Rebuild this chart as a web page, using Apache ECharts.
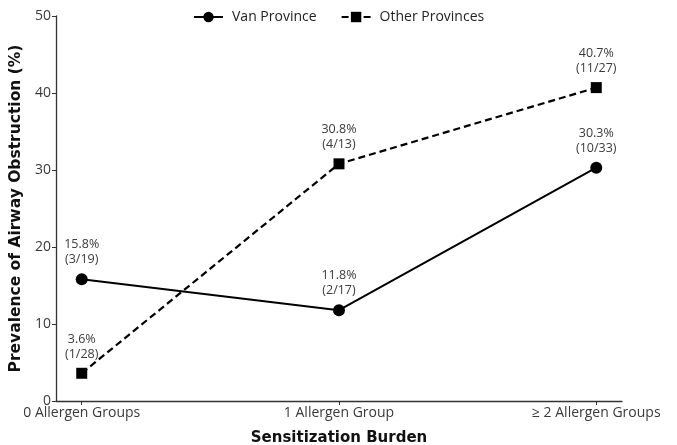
<!DOCTYPE html>
<html><head><meta charset="utf-8">
<script src="https://cdn.jsdelivr.net/npm/echarts@6/dist/echarts.min.js"></script>
<style>html,body{margin:0;padding:0;background:#fff}#c{width:677px;height:445px}</style>
</head><body><div id="c"></div>
<script>
const categories = ['0 Allergen Groups', '1 Allergen Group', '\u2265 2 Allergen Groups'];
const vanValues = [15.8, 11.8, 30.3];
const vanCounts = ['3/19', '2/17', '10/33'];
const otherValues = [3.6, 30.8, 40.7];
const otherCounts = ['1/28', '4/13', '11/27'];
const yTicks = [0, 10, 20, 30, 40, 50];

const font = 'Open Sans';
const titleFont = 'DejaVu Sans';
const txt = '#3a3a3a';
function mk(vals, counts) {
  return vals.map((v, i) => ({ value: [i, v], count: counts[i] }));
}
const lbl = {
  show: true, position: 'top', distance: 6, color: txt, fontFamily: font, fontSize: 12.5, lineHeight: 15,
  formatter: p => p.value[1].toFixed(1) + '%\n(' + p.data.count + ')'
};
const chart = echarts.init(document.getElementById('c'));
chart.setOption({
  animation: false,
  textStyle: { fontFamily: font },
  legend: {
    top: 5, left: 188, itemWidth: 29, itemHeight: 13, itemGap: 24,
    textStyle: { fontFamily: font, fontSize: 14, color: '#222', padding: [0, 0, 0, 4] },
    data: ['Van Province', 'Other Provinces']
  },
  grid: { left: 56, right: 55, top: 16, bottom: 44, containLabel: false, outerBoundsMode: 'none' },
  xAxis: {
    type: 'value', min: -0.1, max: 2.1,
    name: 'Sensitization Burden', nameLocation: 'middle', nameGap: 30,
    nameTextStyle: { fontFamily: titleFont, fontWeight: 'bold', fontSize: 15, color: '#111' },
    axisLine: { onZero: false, lineStyle: { color: '#333', width: 1.3 } },
    axisTick: { show: true, customValues: [0, 1, 2], length: 4, lineStyle: { color: '#333' } },
    axisLabel: { customValues: [0, 1, 2], formatter: v => categories[Math.round(v)], color: txt, fontSize: 14, fontFamily: font, margin: 5 },
    splitLine: { show: false }
  },
  yAxis: {
    type: 'value', min: 0, max: 50, interval: 10,
    name: 'Prevalence of Airway Obstruction (%)', nameLocation: 'middle', nameGap: 30, nameRotate: 90,
    nameTextStyle: { fontFamily: titleFont, fontWeight: 'bold', fontSize: 15.5, color: '#111' },
    axisLine: { show: true, onZero: false, lineStyle: { color: '#333', width: 1.3 } },
    axisTick: { show: true, length: 4, lineStyle: { color: '#333' } },
    axisLabel: { customValues: yTicks, color: txt, fontSize: 14, fontFamily: font, margin: 5 },
    splitLine: { show: false }
  },
  series: [
    {
      name: 'Van Province', type: 'line', data: mk(vanValues, vanCounts),
      symbol: 'circle', symbolSize: 12,
      lineStyle: { color: '#000', width: 2, type: 'solid' },
      itemStyle: { color: '#000' },
      label: lbl
    },
    {
      name: 'Other Provinces', type: 'line', data: mk(otherValues, otherCounts),
      symbol: 'rect', symbolSize: 11,
      lineStyle: { color: '#000', width: 2.2, type: [7, 4] },
      itemStyle: { color: '#000' },
      label: lbl
    }
  ]
});
</script></body></html>
